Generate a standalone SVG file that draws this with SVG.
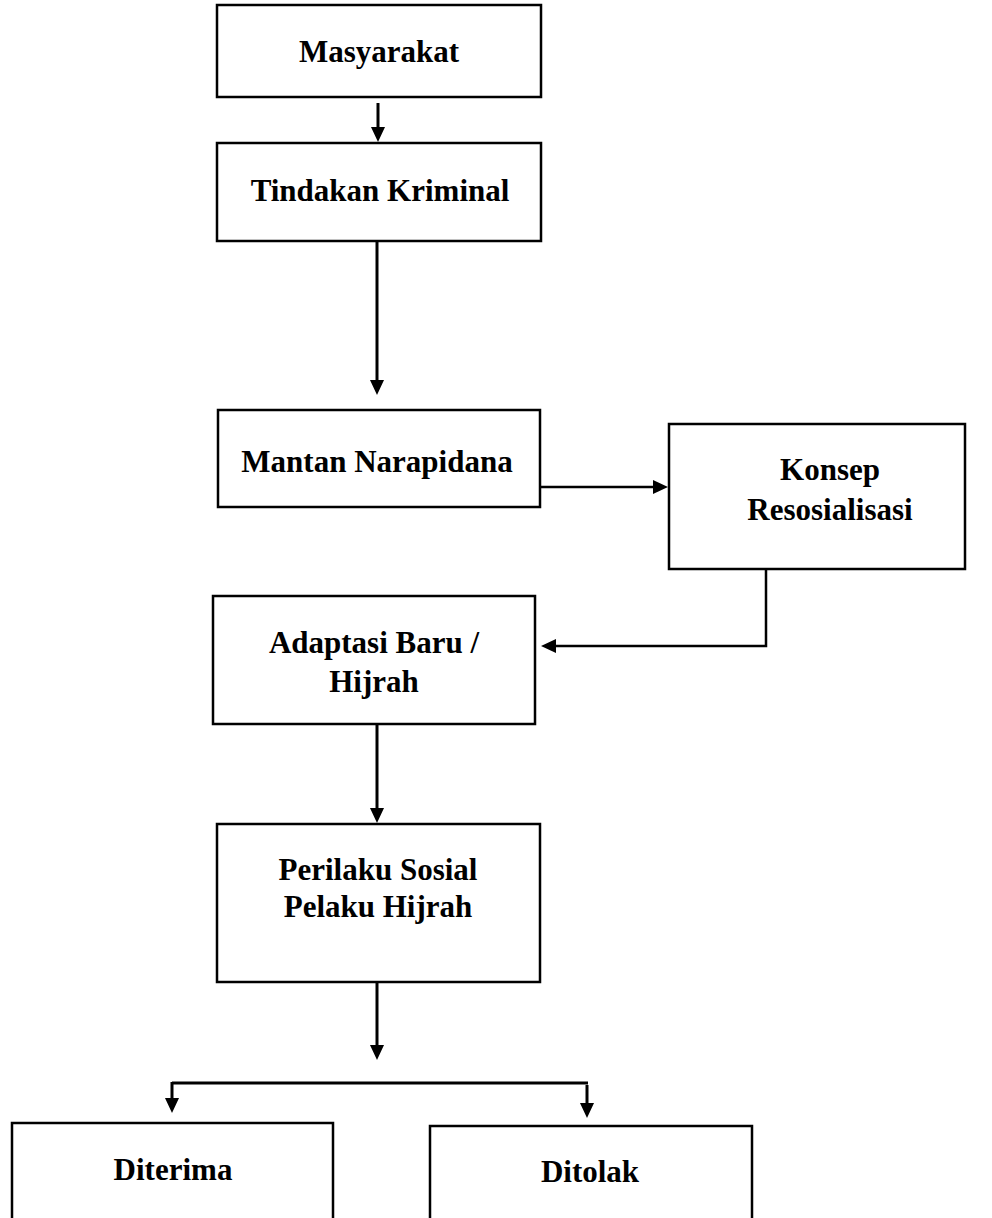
<svg xmlns="http://www.w3.org/2000/svg" width="992" height="1218" viewBox="0 0 992 1218">
<style>
.box{fill:#fff;stroke:#000;stroke-width:2.5}
.lbl{font-family:"Liberation Serif","Times New Roman",serif;font-weight:bold;font-size:31px;fill:#000;text-anchor:middle}
.con{fill:none;stroke:#000;stroke-width:3}
.thin{stroke-width:2.5}
</style>
<defs>
<marker id="ah" viewBox="0 0 15 14" markerUnits="userSpaceOnUse" markerWidth="15" markerHeight="14" refX="0" refY="7" orient="auto">
<path d="M0,0 L15,7 L0,14 Z" fill="#000"/>
</marker>
</defs>
<rect width="992" height="1218" fill="#fff"/>
<g id="connectors">
<path class="con" d="M378,103 V127" marker-end="url(#ah)"/>
<path class="con" d="M377,241 V380" marker-end="url(#ah)"/>
<path class="con thin" d="M540,487 H653" marker-end="url(#ah)"/>
<path class="con thin" d="M766,569 V646 H556" marker-end="url(#ah)"/>
<path class="con" d="M377,724 V808" marker-end="url(#ah)"/>
<path class="con" d="M377,982 V1045" marker-end="url(#ah)"/>
<path class="con" d="M172,1083 H588"/>
<path class="con" d="M172,1082 V1098" marker-end="url(#ah)"/>
<path class="con" d="M587,1085 V1103" marker-end="url(#ah)"/>
</g>
<g id="masyarakat">
<rect class="box" x="217" y="5" width="324" height="92"/>
<text class="lbl" x="379" y="62">Masyarakat</text>
</g>
<g id="tindakan">
<rect class="box" x="217" y="143" width="324" height="98"/>
<text class="lbl" x="380" y="201">Tindakan Kriminal</text>
</g>
<g id="mantan">
<rect class="box" x="218" y="410" width="322" height="97"/>
<text class="lbl" x="377" y="472">Mantan Narapidana</text>
</g>
<g id="konsep">
<rect class="box" x="669" y="424" width="296" height="145"/>
<text class="lbl" x="830" y="480">Konsep</text>
<text class="lbl" x="830" y="520">Resosialisasi</text>
</g>
<g id="adaptasi">
<rect class="box" x="213" y="596" width="322" height="128"/>
<text class="lbl" x="374" y="653">Adaptasi Baru /</text>
<text class="lbl" x="374" y="692">Hijrah</text>
</g>
<g id="perilaku">
<rect class="box" x="217" y="824" width="323" height="158"/>
<text class="lbl" x="378" y="880">Perilaku Sosial</text>
<text class="lbl" x="378" y="917">Pelaku Hijrah</text>
</g>
<g id="diterima">
<rect class="box" x="12" y="1123" width="321" height="110"/>
<text class="lbl" x="173" y="1180">Diterima</text>
</g>
<g id="ditolak">
<rect class="box" x="430" y="1126" width="322" height="110"/>
<text class="lbl" x="590" y="1182">Ditolak</text>
</g>
</svg>
